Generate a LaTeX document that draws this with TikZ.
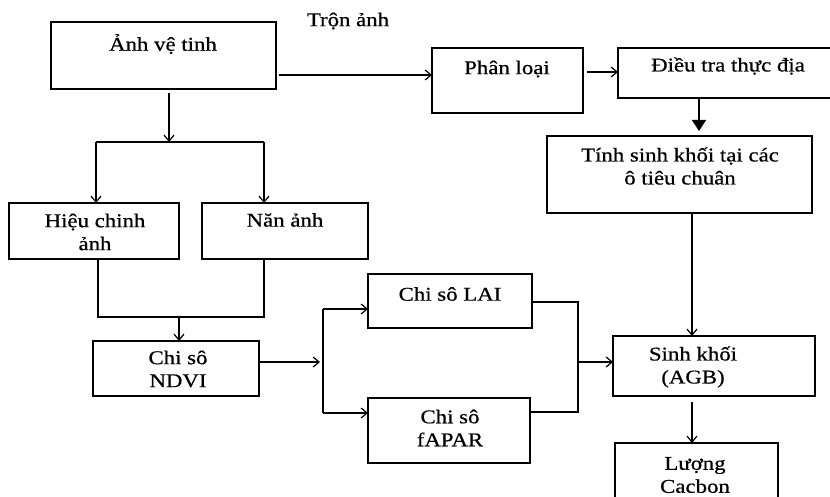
\documentclass[tikz,border=0pt]{standalone}
\usepackage{fontspec}
\setmainfont{Liberation Serif}[FakeStretch=1.17,FakeBold=0.6]
\usetikzlibrary{arrows.meta}
\tikzset{
  box/.style={draw, line width=1.3pt, inner sep=0pt, outer sep=0pt},
  lbl/.style={inner sep=0pt, align=center, font=\fontsize{19.5}{23}\selectfont},
  conn/.style={line width=1.3pt},
  arr/.style={conn, -{Straight Barb[length=6pt,width=10pt,line width=1.2pt]}},
  farr/.style={conn, -{Triangle[length=11pt,width=14pt]}},
}
\begin{document}
\begin{tikzpicture}[x=1pt,y=-1pt]
\useasboundingbox (0,0) rectangle (830,497);
\clip (0,0) rectangle (830,497);
% boxes
\node[box, minimum width=225pt, minimum height=67pt] (anh) at (163.5,55.5) {};
\node[box, minimum width=151pt, minimum height=65pt] (phan) at (507.5,80.5) {};
\node[box, minimum width=242pt, minimum height=50pt] (dieu) at (739,73) {};
\node[box, minimum width=265pt, minimum height=77pt] (tinh) at (679.5,174.5) {};
\node[box, minimum width=170pt, minimum height=56pt] (hieu) at (94,231) {};
\node[box, minimum width=166pt, minimum height=56pt] (nan) at (285,231) {};
\node[box, minimum width=166pt, minimum height=55pt] (ndvi) at (176,368.5) {};
\node[box, minimum width=164pt, minimum height=54pt] (lai) at (450,301) {};
\node[box, minimum width=162pt, minimum height=65pt] (fapar) at (449,430.5) {};
\node[box, minimum width=202pt, minimum height=60pt] (sinh) at (714,366) {};
\node[box, minimum width=163pt, minimum height=77pt] (luong) at (696.5,481.5) {};
% labels
\node[lbl] (tanh) at (163,44) {Ảnh vệ tinh};
\node[lbl] (tphan) at (507,69) {Phân loại};
\node[lbl] (tdieu) at (728,66) {Điều tra thực địa};
\node[lbl] (ttinh) at (680,166) {Tính sinh khối tại các\\ô tiêu chuân};
\node[lbl] (thieu) at (95,232) {Hiệu chinh\\ảnh};
\node[lbl] (tnan) at (285,220) {Năn ảnh};
\node[lbl] (tndvi) at (178,369) {Chi sô\\NDVI};
\node[lbl] (tlai) at (450,294) {Chi sô LAI};
\node[lbl] (tfapar) at (450,428) {Chi sô\\fAPAR};
\node[lbl] (tsinh) at (693,367) {Sinh khối\\(AGB)};
\node[lbl] (tluong) at (695,475) {Lượng\\Cacbon};
\node[lbl] (tron) at (348,21) {Trộn ảnh};
% connectors
\coordinate (split1) at (169,142);
\coordinate (merge1) at (179,317);
\coordinate (split2) at (323,362);
\coordinate (merge2) at (578,362);
\coordinate (lt) at (323,309);
\coordinate (lb) at (323,413);
\draw[arr] (169,93) -- (split1);
\draw[conn] (96,142) -- (264,142);
\draw[arr] (96,142) -- (hieu.north -| 96,0);
\draw[arr] (264,142) -- (nan.north -| 264,0);
\draw[arr] (279,75) -- (phan.west |- 0,75);
\draw[arr] (587,72) -- (dieu.west |- 0,72);
\draw[farr] (dieu.south -| 699,0) -- (699,131);
\draw[conn] (hieu.south -| 98,0) -- (98,317) -- (264,317) -- (nan.south -| 264,0);
\draw[arr] (merge1) -- (ndvi.north -| merge1);
\draw[arr] (ndvi.east |- split2) -- (320,362);
\draw[conn] (lt) -- (lb);
\draw[arr] (lt) -- (lai.west |- lt);
\draw[arr] (lb) -- (fapar.west |- lb);
\draw[conn] (lai.east |- 0,302) -- (578,302) -- (578,412) -- (fapar.east |- 0,412);
\draw[arr] (merge2) -- (sinh.west |- merge2);
\draw[arr] (tinh.south -| 692,0) -- (sinh.north -| 692,0);
\draw[arr] (692,402) -- (luong.north -| 692,0);
\end{tikzpicture}
\end{document}
